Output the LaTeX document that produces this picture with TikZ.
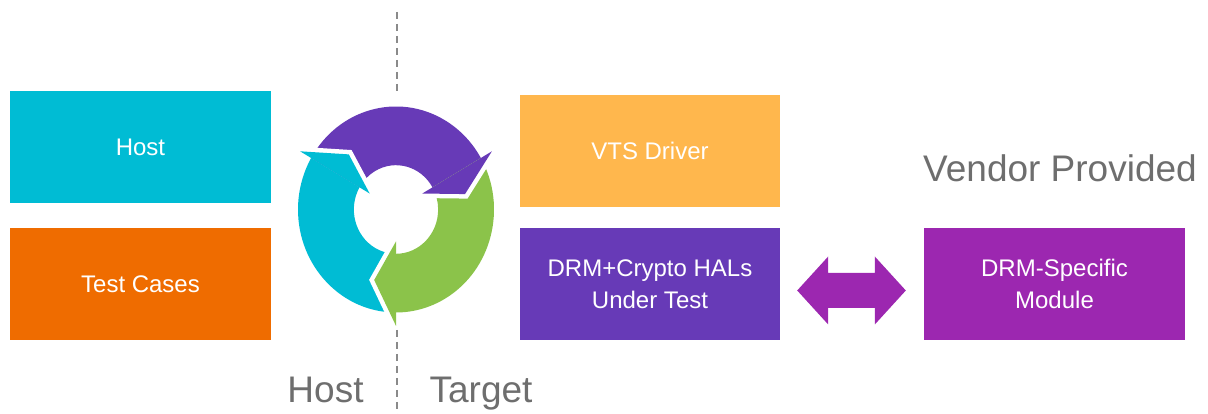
\documentclass[tikz,border=0pt]{standalone}
\usepackage{fontspec}
\setmainfont{Liberation Sans}
\usetikzlibrary{calc}

\definecolor{hostcyan}{HTML}{00BCD4}
\definecolor{testorange}{HTML}{EF6C00}
\definecolor{vtsorange}{HTML}{FFB74D}
\definecolor{halpurple}{HTML}{673AB7}
\definecolor{modpurple}{HTML}{9C27B0}
\definecolor{cyclegreen}{HTML}{8BC34A}
\definecolor{labelgray}{HTML}{6E6E6E}
\definecolor{divgray}{HTML}{8A8A8A}

\tikzset{
  block/.style={minimum width=261pt, minimum height=112pt, inner sep=0pt,
    text=white, align=center, font=\fontsize{24}{32}\selectfont},
  sidelabel/.style={text=labelgray, anchor=base, inner sep=0pt,
    font=\fontsize{37}{40}\selectfont},
  divider/.style={draw=divgray, line width=1.5pt, dash pattern=on 7pt off 5pt},
}

% one band of the cycle: from angle #2 clockwise to angle #3
\newcommand{\cyclebody}[3]{%
  \fill[#1] (#2:100pt) arc[start angle=#2, end angle=#3, radius=100pt]
    -- (#3:43pt) arc[start angle=#3, end angle=#2, radius=43pt] -- cycle;}
% arrow head with its base on the radial line at angle #2
\newcommand{\cyclehead}[2]{%
  \draw[white, line width=9pt] (#2:113pt) -- (#2-18:72pt) -- (#2:31pt);
  \fill[#1] (#2:113pt) -- (#2-18:72pt) -- (#2:31pt) -- cycle;}

\begin{document}
\begin{tikzpicture}[x=1pt, y=1pt]
\useasboundingbox (0,0) rectangle (1208,414);

% host side
\node[block, fill=hostcyan] (host) at (140.5,267) {Host};
\node[block, fill=testorange] (tests) at (140.5,130) {Test Cases};

% target side
\node[block, fill=vtsorange, minimum width=260pt] (vts) at (650,263) {VTS Driver};
\node[block, fill=halpurple, minimum width=260pt] (hal) at (650,130) {DRM+Crypto HALs\\Under Test};

% vendor side
\node[block, fill=modpurple] (mod) at (1054.5,130) {DRM-Specific\\Module};
\node[sidelabel] (vendor) at (1060,232) {Vendor Provided};

% host / target divider
\coordinate (divA) at (397,402);
\coordinate (divB) at (397,321);
\coordinate (divC) at (397,84);
\coordinate (divD) at (397,0);
\draw[divider] (divA) -- (divB);
\draw[divider] (divC) -- (divD);
\node[sidelabel] (hostlbl) at (325.5,11) {Host};
\node[sidelabel] (targetlbl) at (481,11) {Target};

% exchange cycle
\begin{scope}[shift={(396,204.5)}, xscale=0.98, yscale=1.03]
  \cyclebody{halpurple}{150}{30}
  \cyclebody{hostcyan}{270}{150}
  \cyclebody{cyclegreen}{30}{-90}
  \cyclehead{halpurple}{30}
  \cyclehead{hostcyan}{150}
  \cyclehead{cyclegreen}{270}
\end{scope}

% two-way link between the HALs and the vendor module
\coordinate (dl) at ([xshift=17pt, yshift=-6.5pt]hal.east);
\coordinate (dr) at ([xshift=-18pt, yshift=-6.5pt]mod.west);
\fill[modpurple] (dl) -- ($(dl)+(31,34)$) -- ($(dl)+(31,17.5)$)
  -- ($(dr)+(-31,17.5)$) -- ($(dr)+(-31,34)$) -- (dr)
  -- ($(dr)+(-31,-34)$) -- ($(dr)+(-31,-17.5)$)
  -- ($(dl)+(31,-17.5)$) -- ($(dl)+(31,-34)$) -- cycle;
\end{tikzpicture}
\end{document}
